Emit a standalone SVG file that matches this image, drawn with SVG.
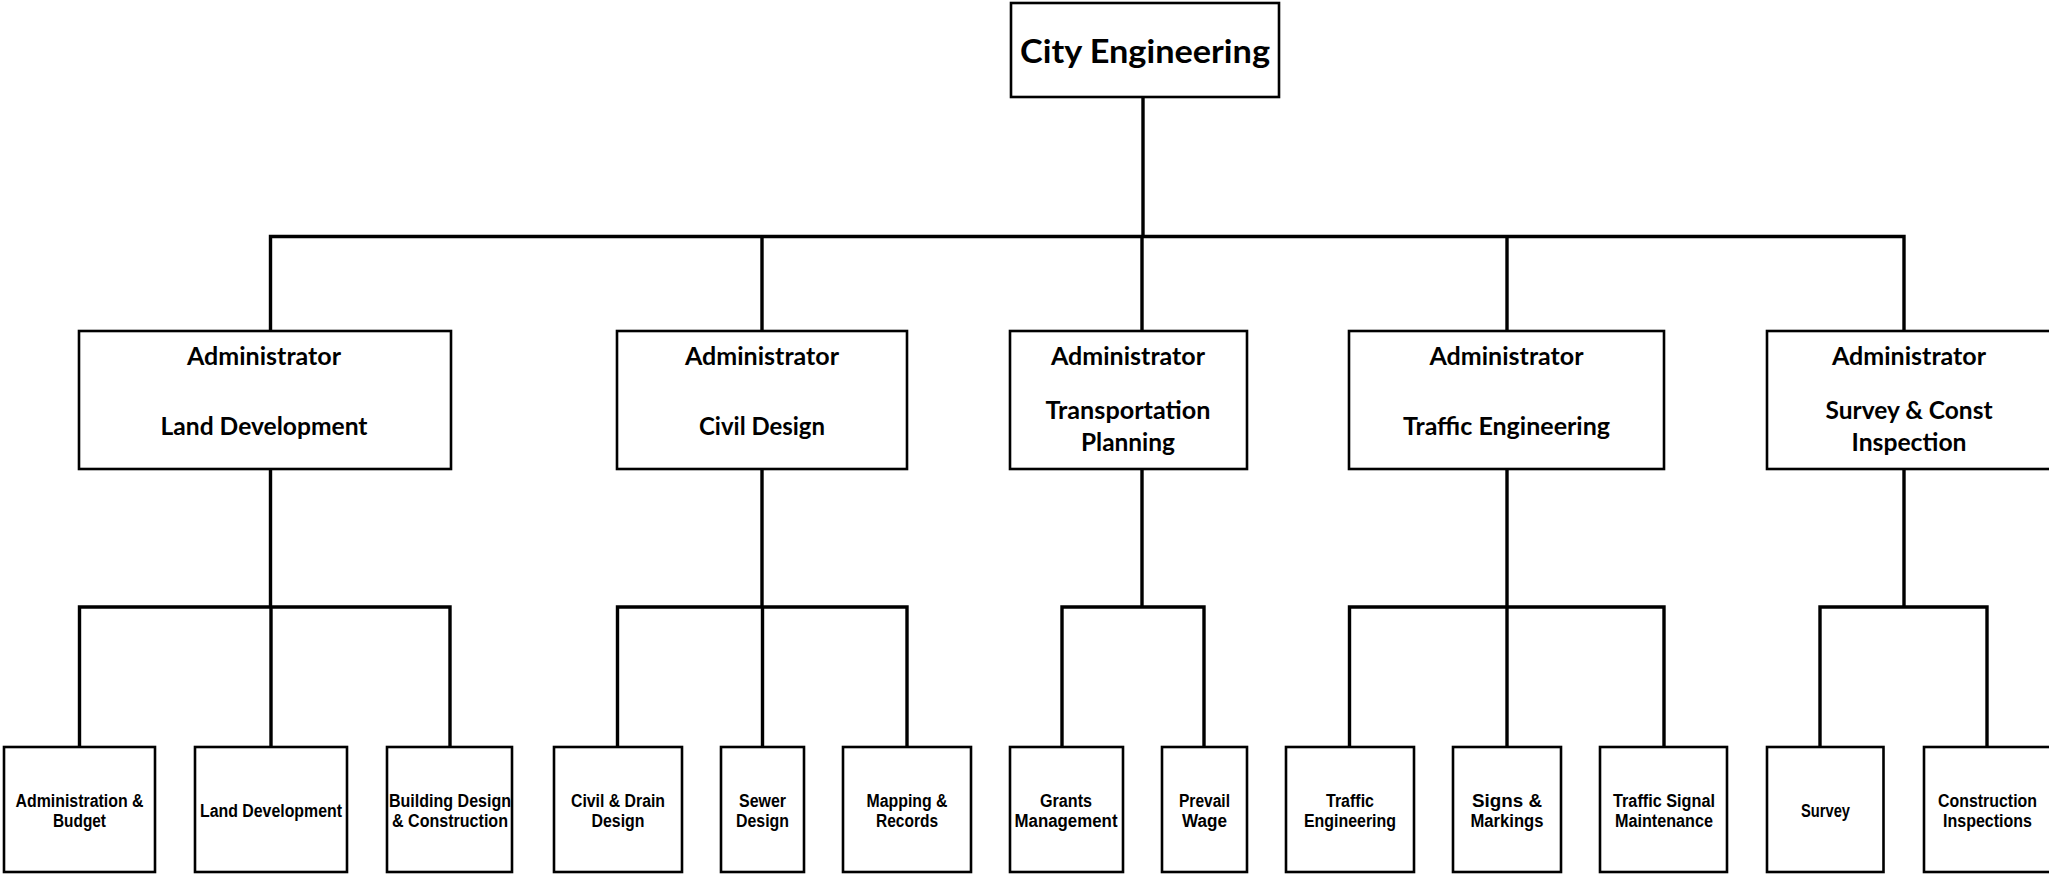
<svg xmlns="http://www.w3.org/2000/svg" width="2049" height="874" viewBox="0 0 2049 874">
  <style>
    .box { fill: #ffffff; stroke: #000000; stroke-width: 2.6; }
    .link { fill: none; stroke: #000000; stroke-width: 3.4; stroke-linecap: square; }
    .head { font-family: Lato, "Open Sans", "Liberation Sans", sans-serif; font-weight: 700; fill: #000; text-anchor: middle; }
    .top { font-size: 33px; }
    .adm { font-size: 25px; }
    .leaf { font-family: "Liberation Sans", Arial, sans-serif; font-weight: 700; font-size: 17.5px; fill: #000; text-anchor: middle; }
  </style>
  <rect x="0" y="0" width="2049" height="874" fill="#ffffff"/>

  <!-- connectors -->
  <g id="connectors">
    <path class="link" d="M1143 97 V236.5 M270.5 236.5 H1904 M270.5 236.5 V331 M762 236.5 V331 M1142 236.5 V331 M1507 236.5 V331 M1904 236.5 V331"/>
    <path class="link" d="M270.5 469 V607 M79.5 607 H450 M79.5 607 V747 M271 607 V747 M450 607 V747"/>
    <path class="link" d="M762 469 V607 M617.5 607 H907 M617.5 607 V747 M762.5 607 V747 M907 607 V747"/>
    <path class="link" d="M1142 469 V607 M1062 607 H1204 M1062 607 V747 M1204 607 V747"/>
    <path class="link" d="M1507 469 V607 M1349.5 607 H1664 M1349.5 607 V747 M1507 607 V747 M1664 607 V747"/>
    <path class="link" d="M1904 469 V607 M1820 607 H1987 M1820 607 V747 M1987 607 V747"/>
  </g>

  <!-- top level -->
  <g id="city-engineering">
    <rect class="box" x="1011" y="3" width="268" height="94"/>
    <text class="head top" x="1145" y="63" textLength="250" lengthAdjust="spacingAndGlyphs">City Engineering</text>
  </g>

  <!-- administrators -->
  <g id="admin-land-development">
    <rect class="box" x="79" y="331" width="372" height="138"/>
    <text class="head adm" x="264" y="365" textLength="154" lengthAdjust="spacingAndGlyphs">Administrator</text>
    <text class="head adm" x="264" y="435" textLength="207" lengthAdjust="spacingAndGlyphs">Land Development</text>
  </g>
  <g id="admin-civil-design">
    <rect class="box" x="617" y="331" width="290" height="138"/>
    <text class="head adm" x="762" y="365" textLength="154" lengthAdjust="spacingAndGlyphs">Administrator</text>
    <text class="head adm" x="762" y="435" textLength="126" lengthAdjust="spacingAndGlyphs">Civil Design</text>
  </g>
  <g id="admin-transportation-planning">
    <rect class="box" x="1010" y="331" width="237" height="138"/>
    <text class="head adm" x="1128" y="365" textLength="154" lengthAdjust="spacingAndGlyphs">Administrator</text>
    <text class="head adm" x="1128" y="419" textLength="165" lengthAdjust="spacingAndGlyphs">Transportation</text>
    <text class="head adm" x="1128" y="451" textLength="94" lengthAdjust="spacingAndGlyphs">Planning</text>
  </g>
  <g id="admin-traffic-engineering">
    <rect class="box" x="1349" y="331" width="315" height="138"/>
    <text class="head adm" x="1506.5" y="365" textLength="154" lengthAdjust="spacingAndGlyphs">Administrator</text>
    <text class="head adm" x="1506.5" y="435" textLength="207" lengthAdjust="spacingAndGlyphs">Traffic Engineering</text>
  </g>
  <g id="admin-survey-inspection">
    <rect class="box" x="1767" y="331" width="284" height="138"/>
    <text class="head adm" x="1909" y="365" textLength="154" lengthAdjust="spacingAndGlyphs">Administrator</text>
    <text class="head adm" x="1909" y="419" textLength="167" lengthAdjust="spacingAndGlyphs">Survey &amp; Const</text>
    <text class="head adm" x="1909" y="451" textLength="115" lengthAdjust="spacingAndGlyphs">Inspection</text>
  </g>

  <!-- sections -->
  <g id="administration-budget">
    <rect class="box" x="4" y="747" width="151" height="125"/>
    <text class="leaf" x="79.5" y="807" textLength="128" lengthAdjust="spacingAndGlyphs">Administration &amp;</text>
    <text class="leaf" x="79.5" y="827" textLength="53" lengthAdjust="spacingAndGlyphs">Budget</text>
  </g>
  <g id="land-development">
    <rect class="box" x="195" y="747" width="152" height="125"/>
    <text class="leaf" x="271" y="817" textLength="142" lengthAdjust="spacingAndGlyphs">Land Development</text>
  </g>
  <g id="building-design">
    <rect class="box" x="387" y="747" width="125" height="125"/>
    <text class="leaf" x="450" y="807" textLength="122" lengthAdjust="spacingAndGlyphs">Building Design</text>
    <text class="leaf" x="450" y="827" textLength="116" lengthAdjust="spacingAndGlyphs">&amp; Construction</text>
  </g>
  <g id="civil-drain-design">
    <rect class="box" x="554" y="747" width="128" height="125"/>
    <text class="leaf" x="618" y="807" textLength="94" lengthAdjust="spacingAndGlyphs">Civil &amp; Drain</text>
    <text class="leaf" x="618" y="827" textLength="53" lengthAdjust="spacingAndGlyphs">Design</text>
  </g>
  <g id="sewer-design">
    <rect class="box" x="721" y="747" width="83" height="125"/>
    <text class="leaf" x="762.5" y="807" textLength="47" lengthAdjust="spacingAndGlyphs">Sewer</text>
    <text class="leaf" x="762.5" y="827" textLength="53" lengthAdjust="spacingAndGlyphs">Design</text>
  </g>
  <g id="mapping-records">
    <rect class="box" x="843" y="747" width="128" height="125"/>
    <text class="leaf" x="907" y="807" textLength="81" lengthAdjust="spacingAndGlyphs">Mapping &amp;</text>
    <text class="leaf" x="907" y="827" textLength="62" lengthAdjust="spacingAndGlyphs">Records</text>
  </g>
  <g id="grants-management">
    <rect class="box" x="1010" y="747" width="113" height="125"/>
    <text class="leaf" x="1066" y="807" textLength="52" lengthAdjust="spacingAndGlyphs">Grants</text>
    <text class="leaf" x="1066" y="827" textLength="103" lengthAdjust="spacingAndGlyphs">Management</text>
  </g>
  <g id="prevail-wage">
    <rect class="box" x="1162" y="747" width="85" height="125"/>
    <text class="leaf" x="1204.5" y="807" textLength="51" lengthAdjust="spacingAndGlyphs">Prevail</text>
    <text class="leaf" x="1204.5" y="827" textLength="45" lengthAdjust="spacingAndGlyphs">Wage</text>
  </g>
  <g id="traffic-engineering">
    <rect class="box" x="1286" y="747" width="128" height="125"/>
    <text class="leaf" x="1350" y="807" textLength="48" lengthAdjust="spacingAndGlyphs">Traffic</text>
    <text class="leaf" x="1350" y="827" textLength="92" lengthAdjust="spacingAndGlyphs">Engineering</text>
  </g>
  <g id="signs-markings">
    <rect class="box" x="1453" y="747" width="108" height="125"/>
    <text class="leaf" x="1507" y="807" textLength="70" lengthAdjust="spacingAndGlyphs">Signs &amp;</text>
    <text class="leaf" x="1507" y="827" textLength="73" lengthAdjust="spacingAndGlyphs">Markings</text>
  </g>
  <g id="traffic-signal-maintenance">
    <rect class="box" x="1600" y="747" width="127" height="125"/>
    <text class="leaf" x="1664" y="807" textLength="102" lengthAdjust="spacingAndGlyphs">Traffic Signal</text>
    <text class="leaf" x="1664" y="827" textLength="98" lengthAdjust="spacingAndGlyphs">Maintenance</text>
  </g>
  <g id="survey">
    <rect class="box" x="1767" y="747" width="116.5" height="125"/>
    <text class="leaf" x="1825.5" y="817" textLength="49" lengthAdjust="spacingAndGlyphs">Survey</text>
  </g>
  <g id="construction-inspections">
    <rect class="box" x="1924" y="747" width="127" height="125"/>
    <text class="leaf" x="1987.5" y="807" textLength="99" lengthAdjust="spacingAndGlyphs">Construction</text>
    <text class="leaf" x="1987.5" y="827" textLength="89" lengthAdjust="spacingAndGlyphs">Inspections</text>
  </g>
</svg>
